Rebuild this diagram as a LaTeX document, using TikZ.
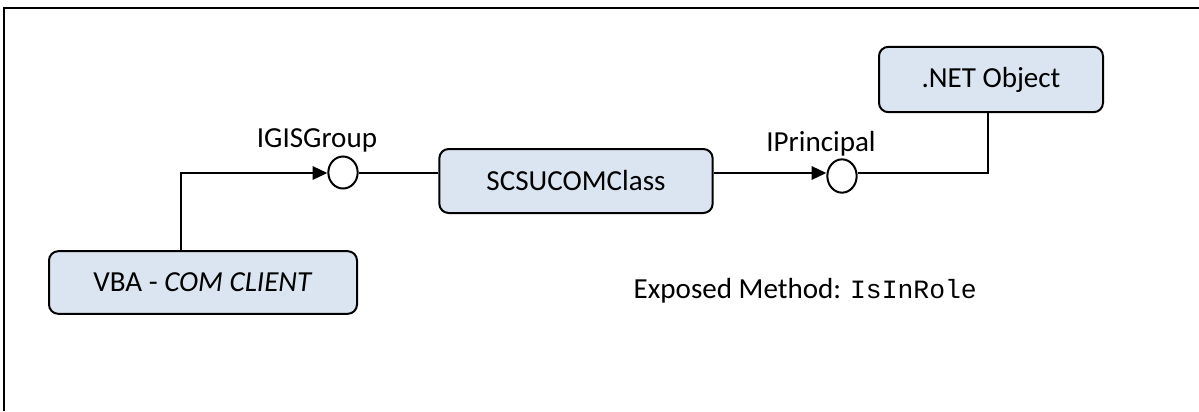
\documentclass[tikz,border=0pt]{standalone}
\usepackage{fontspec}
\setmainfont{Carlito}
\setmonofont{Liberation Mono}
\usepackage{tikz}
\usetikzlibrary{arrows.meta}
\usetikzlibrary{shapes.geometric}
\definecolor{boxfill}{RGB}{219,229,241}
\tikzset{
    every node/.append style={font=\fontsize{21.8}{26}\selectfont},
    link/.style={line width=1.5pt},
    arrow/.style={line width=1.5pt, -{Triangle[length=11pt,width=10pt]}},
    classbox/.style={draw, line width=1.5pt, rounded corners=7pt, fill=boxfill,
        inner sep=0pt},
    iface/.style={draw, ellipse, line width=1.5pt, fill=white, inner sep=0pt,
        minimum width=22pt, minimum height=24pt},
}

\begin{document}
\begin{tikzpicture}[x=0.75pt,y=-0.75pt]
  \useasboundingbox (0,0) rectangle (1199,411);
  % frame
  \draw[line width=1.5pt] (1199,7.5) -| (3.5,411);

  % nodes
  \node[classbox, minimum width=231pt, minimum height=47pt] (vba) at (203,282.5)
      {VBA - \textit{COM CLIENT}};
  \node[classbox, minimum width=205pt, minimum height=48pt] (scsu) at (576,181)
      {SCSUCOMClass};
  \node[classbox, minimum width=168pt, minimum height=49pt] (net) at (991,79.5)
      {.NET Object};
  \node[iface] (igis) at (343,172.5) {};
  \node[iface, minimum height=25pt] (iprin) at (842,176) {};

  % labels
  \node (igislabel) at (317,140) {IGISGroup};
  \node (iprinlabel) at (821,144) {IPrincipal};
  \node[anchor=base west] (method) at (629,298)
      {Exposed Method: {\fontsize{19.8}{24}\selectfont\ttfamily IsInRole}};

  % edges
  \draw[arrow] ([xshift=-16.5pt]vba.north) |- (igis.west |- 0,173);
  \draw[link] (igis.east |- 0,173) -- (scsu.west |- 0,173);
  \draw[arrow] (scsu.east |- 0,173) -- (iprin.west |- 0,173);
  \draw[link] (iprin.east |- 0,173) -| ([xshift=-2pt]net.south);
\end{tikzpicture}
\end{document}
